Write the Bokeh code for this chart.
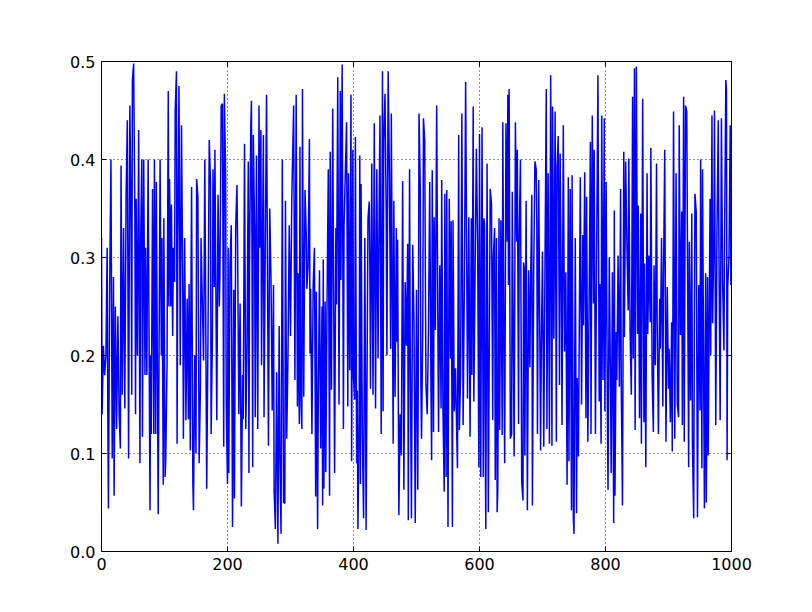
from bokeh.plotting import figure
from bokeh.models import LinearAxis, FixedTicker, Range1d, Grid
from bokeh.embed import file_html
from bokeh.resources import INLINE

# (x, value) samples, per 100-unit stretch
seg_000 = [(0,0.32),(1,0.14),(3,0.21),(5,0.18),(7,0.20),(9,0.31),(10,0.14),(11,0.044),(13,0.27),(15,0.40),(17,0.095),(19,0.28),(20,0.057),(22,0.25),(24,0.125),(26,0.24),(28,0.14),(30,0.105),(31,0.394),(33,0.16),(35,0.33),(37,0.146),(39,0.36),(41,0.44),(43,0.095),(45,0.455),(47,0.33),(48,0.16),(49,0.48),(51,0.498),(53,0.34),(54,0.14),(55,0.36),(57,0.20),(59,0.43),(61,0.09),(62,0.31),(64,0.40),(65,0.117),(67,0.40),(69,0.18),(70,0.31),(72,0.18),(74,0.40),(77,0.042),(78,0.2),(79,0.12),(81,0.37),(83,0.12),(84,0.40),(86,0.12),(87,0.377),(90,0.038),(93,0.40),(95,0.2),(96,0.32),(98,0.068),(99,0.34)]
seg_100 = [(101,0.076),(102,0.095),(104,0.19),(106,0.47),(107,0.25),(108,0.38),(110,0.25),(111,0.354),(113,0.22),(114,0.31),(116,0.275),(117,0.45),(119,0.49),(120,0.11),(121,0.30),(123,0.475),(125,0.19),(127,0.435),(129,0.27),(130,0.115),(132,0.32),(134,0.134),(136,0.258),(138,0.135),(139,0.273),(141,0.103),(142,0.27),(143,0.372),(145,0.071),(146,0.042),(148,0.2),(150,0.1),(151,0.38),(153,0.362),(155,0.09),(157,0.166),(158,0.32),(160,0.255),(162,0.195),(164,0.40),(167,0.064),(169,0.216),(171,0.42),(173,0.377),(174,0.12),(176,0.217),(177,0.39),(179,0.27),(180,0.41),(183,0.134),(185,0.364),(187,0.25),(188,0.285),(190,0.455),(192,0.457),(194,0.107),(195,0.467),(197,0.386),(198,0.15),(200,0.069)]
seg_200 = [(201,0.31),(202,0.08),(204,0.294),(206,0.333),(207,0.17),(208,0.025),(210,0.267),(211,0.054),(213,0.33),(215,0.374),(216,0.313),(218,0.14),(220,0.253),(222,0.046),(224,0.18),(225,0.135),(227,0.416),(229,0.125),(231,0.212),(233,0.398),(234,0.08),(235,0.30),(237,0.433),(238,0.46),(240,0.086),(241,0.425),(243,0.33),(244,0.137),(246,0.404),(248,0.125),(250,0.455),(251,0.31),(253,0.43),(254,0.19),(257,0.425),(258,0.137),(260,0.316),(262,0.466),(264,0.224),(265,0.108),(267,0.35),(269,0.28),(271,0.144),(273,0.272),(274,0.063),(276,0.023),(278,0.183),(280,0.008),(282,0.23),(283,0.105),(285,0.018),(287,0.40),(289,0.05),(291,0.049),(292,0.358),(294,0.115),(296,0.2),(298,0.333),(300,0.22)]
seg_300 = [(302,0.358),(305,0.455),(307,0.175),(309,0.466),(311,0.148),(312,0.284),(314,0.13),(315,0.413),(316,0.168),(318,0.125),(319,0.472),(321,0.158),(323,0.369),(325,0.323),(326,0.268),(328,0.292),(330,0.421),(331,0.202),(332,0.268),(334,0.12),(336,0.272),(338,0.31),(340,0.056),(341,0.265),(343,0.023),(344,0.14),(346,0.287),(348,0.105),(350,0.25),(351,0.047),(352,0.298),(353,0.064),(355,0.255),(356,0.081),(358,0.255),(360,0.39),(362,0.057),(363,0.408),(365,0.165),(367,0.452),(370,0.08),(372,0.33),(373,0.252),(375,0.484),(377,0.15),(379,0.47),(380,0.277),(382,0.497),(384,0.125),(385,0.333),(387,0.386),(389,0.438),(391,0.148),(392,0.386),(394,0.185),(396,0.466),(397,0.092),(399,0.41),(400,0.177)]
seg_400 = [(402,0.155),(403,0.423),(405,0.09),(406,0.164),(407,0.023),(409,0.139),(410,0.404),(411,0.069),(412,0.375),(414,0.12),(416,0.034),(418,0.32),(420,0.022),(423,0.34),(425,0.357),(426,0.29),(427,0.166),(429,0.396),(431,0.16),(433,0.437),(435,0.146),(437,0.39),(439,0.197),(441,0.372),(442,0.445),(444,0.12),(446,0.49),(447,0.143),(448,0.42),(450,0.467),(452,0.338),(453,0.2),(455,0.49),(457,0.384),(459,0.207),(460,0.447),(463,0.11),(464,0.358),(466,0.158),(468,0.33),(469,0.214),(470,0.318),(472,0.037),(474,0.14),(476,0.098),(478,0.378),(480,0.063),(482,0.275),(484,0.21),(486,0.314),(487,0.032),(489,0.39),(490,0.216),(492,0.034),(494,0.313),(496,0.236),(498,0.029),(500,0.267)]
seg_500 = [(502,0.063),(503,0.204),(504,0.447),(506,0.372),(507,0.17),(508,0.115),(510,0.231),(511,0.442),(513,0.42),(515,0.17),(517,0.14),(519,0.226),(521,0.377),(523,0.165),(524,0.093),(525,0.389),(527,0.122),(528,0.341),(530,0.226),(532,0.455),(534,0.224),(535,0.122),(537,0.292),(539,0.146),(540,0.379),(542,0.145),(544,0.061),(545,0.365),(547,0.076),(548,0.369),(550,0.025),(552,0.36),(554,0.197),(555,0.337),(557,0.025),(558,0.338),(560,0.143),(562,0.187),(564,0.115),(565,0.085),(567,0.425),(568,0.124),(570,0.18),(572,0.447),(574,0.129),(576,0.275),(578,0.479),(579,0.37),(581,0.156),(583,0.341),(585,0.117),(587,0.34),(588,0.18),(590,0.454),(591,0.153),(593,0.284),(595,0.411),(597,0.316),(599,0.086),(600,0.426)]
seg_600 = [(602,0.076),(604,0.433),(606,0.076),(607,0.34),(608,0.333),(609,0.13),(610,0.023),(612,0.396),(614,0.04),(617,0.37),(619,0.355),(621,0.134),(622,0.30),(624,0.33),(625,0.073),(627,0.32),(628,0.04),(629,0.063),(631,0.34),(632,0.124),(634,0.338),(636,0.119),(637,0.438),(639,0.17),(640,0.09),(642,0.437),(644,0.316),(645,0.466),(646,0.272),(647,0.472),(649,0.115),(651,0.12),(652,0.367),(655,0.097),(657,0.438),(659,0.316),(660,0.41),(662,0.13),(663,0.32),(665,0.40),(667,0.071),(669,0.052),(670,0.295),(671,0.29),(672,0.098),(674,0.358),(676,0.042),(678,0.287),(680,0.188),(681,0.267),(683,0.364),(684,0.047),(686,0.284),(688,0.398),(690,0.39),(691,0.333),(692,0.12),(694,0.379),(697,0.103),(698,0.2),(700,0.306)]
seg_700 = [(702,0.107),(704,0.297),(706,0.472),(707,0.125),(709,0.386),(711,0.11),(713,0.486),(715,0.108),(716,0.454),(718,0.217),(720,0.449),(722,0.112),(723,0.392),(725,0.424),(727,0.17),(728,0.406),(730,0.255),(731,0.129),(733,0.435),(735,0.204),(737,0.285),(739,0.068),(741,0.382),(742,0.092),(744,0.37),(746,0.042),(747,0.384),(749,0.035),(750,0.018),(752,0.32),(754,0.039),(755,0.177),(757,0.097),(759,0.285),(760,0.382),(762,0.15),(764,0.323),(765,0.231),(767,0.387),(769,0.136),(770,0.362),(772,0.112),(774,0.255),(776,0.418),(777,0.12),(779,0.445),(781,0.253),(782,0.41),(784,0.12),(786,0.31),(788,0.486),(790,0.153),(791,0.273),(793,0.11),(794,0.445),(796,0.175),(798,0.442),(799,0.143),(801,0.377),(803,0.141)]
seg_800 = [(804,0.063),(806,0.30),(808,0.165),(809,0.08),(811,0.285),(813,0.029),(814,0.348),(815,0.057),(817,0.224),(818,0.175),(820,0.302),(822,0.168),(824,0.37),(825,0.17),(827,0.047),(829,0.408),(830,0.219),(832,0.398),(834,0.313),(836,0.246),(837,0.401),(839,0.226),(841,0.16),(843,0.464),(844,0.197),(846,0.493),(847,0.124),(849,0.495),(851,0.222),(852,0.353),(854,0.136),(856,0.345),(857,0.11),(859,0.462),(861,0.132),(862,0.294),(864,0.086),(866,0.386),(867,0.222),(869,0.302),(871,0.234),(872,0.412),(874,0.18),(876,0.122),(877,0.292),(879,0.19),(881,0.396),(882,0.237),(884,0.12),(886,0.258),(887,0.207),(889,0.32),(891,0.148),(892,0.272),(894,0.41),(896,0.112),(898,0.27),(900,0.166)]
seg_900 = [(901,0.207),(903,0.132),(905,0.234),(906,0.102),(907,0.243),(908,0.449),(910,0.115),(912,0.386),(914,0.15),(916,0.137),(917,0.435),(919,0.221),(921,0.347),(922,0.129),(924,0.464),(925,0.112),(927,0.455),(929,0.449),(930,0.324),(932,0.086),(933,0.316),(935,0.154),(937,0.345),(938,0.11),(940,0.034),(941,0.219),(942,0.365),(944,0.347),(946,0.035),(948,0.272),(950,0.144),(951,0.40),(953,0.085),(954,0.39),(956,0.156),(957,0.044),(959,0.284),(960,0.05),(962,0.28),(963,0.098),(966,0.36),(967,0.2),(969,0.445),(970,0.233),(972,0.32),(973,0.45),(975,0.129),(977,0.33),(979,0.44),(980,0.316),(982,0.134),(984,0.442),(986,0.272),(988,0.205),(989,0.32),(991,0.481),(992,0.471),(993,0.093),(994,0.27),(996,0.30),(998,0.435),(999,0.272),(1000,0.43)]

x_ticks = [0, 200, 400, 600, 800, 1000]
x_labels = ["0", "200", "400", "600", "800", "1000"]
y_ticks = [0.0, 0.1, 0.2, 0.3, 0.4, 0.5]
y_labels = ["0.0", "0.1", "0.2", "0.3", "0.4", "0.5"]

samples = seg_000 + seg_100 + seg_200 + seg_300 + seg_400 + seg_500 + seg_600 + seg_700 + seg_800 + seg_900
xs = [s[0] for s in samples]
ys = [s[1] for s in samples]

p = figure(width=796, height=596, x_range=Range1d(0, 1000), y_range=Range1d(0, 0.5),
           output_backend="svg", toolbar_location=None,
           min_border_left=101, min_border_right=65, min_border_top=61, min_border_bottom=45,
           x_axis_type=None, y_axis_type=None)
p.background_fill_color = "white"
p.border_fill_color = "white"
p.outline_line_color = "black"
p.outline_line_width = 1

xticker = FixedTicker(ticks=x_ticks)
yticker = FixedTicker(ticks=y_ticks)
for dim, tk in ((0, xticker), (1, yticker)):
    g = Grid(dimension=dim, ticker=tk)
    g.grid_line_color = "black"
    g.grid_line_dash = "1 3"
    g.grid_line_width = 1
    g.grid_line_alpha = 0.85
    p.add_layout(g)

p.line(xs, ys, line_color="#0000ff", line_width=1.5)


def make_axis(ticks, labels, show):
    ax = LinearAxis(ticker=FixedTicker(ticks=ticks))
    ax.major_label_overrides = {t: l for t, l in zip(ticks, labels)}
    ax.major_tick_in = 5
    ax.major_tick_out = 0
    ax.minor_tick_line_color = None
    ax.axis_line_color = "black"
    ax.major_tick_line_color = "black"
    ax.major_label_text_font = "DejaVu Sans"
    ax.major_label_text_font_size = "16px"
    ax.major_label_text_color = "black" if show else None
    ax.major_label_standoff = 6
    return ax


p.add_layout(make_axis(x_ticks, x_labels, True), "below")
p.add_layout(make_axis(y_ticks, y_labels, True), "left")
p.add_layout(make_axis(x_ticks, x_labels, False), "above")
p.add_layout(make_axis(y_ticks, y_labels, False), "right")

open("out.html", "w").write(file_html(p, INLINE))
